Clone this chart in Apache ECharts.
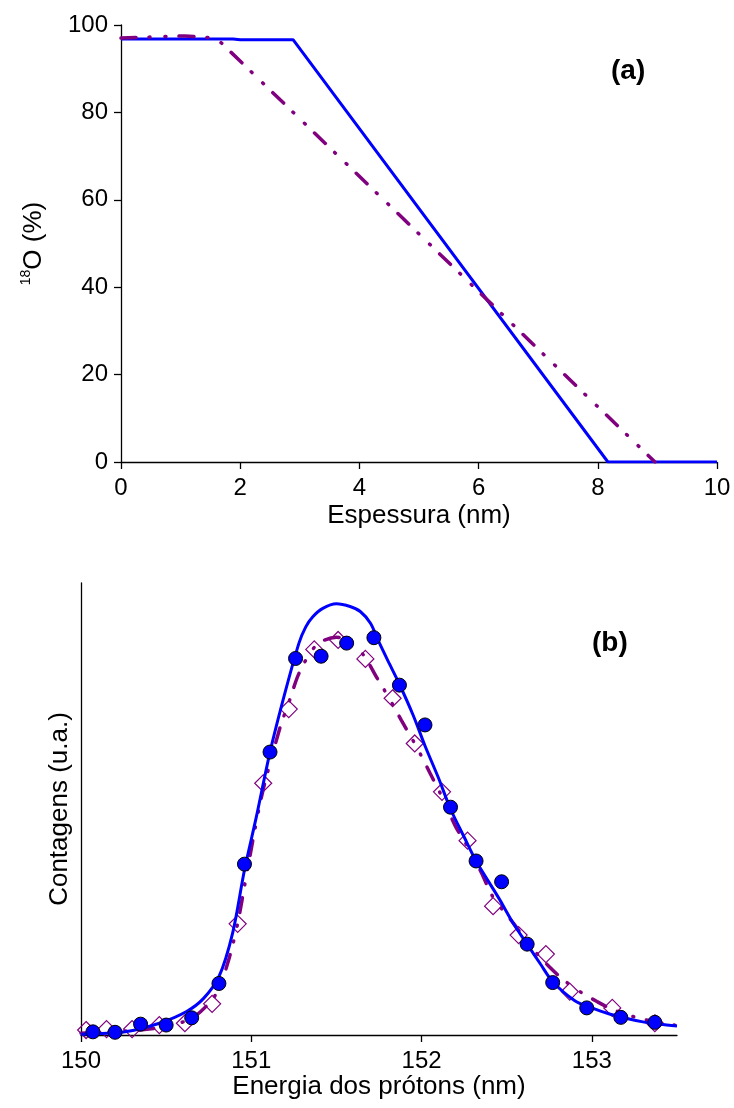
<!DOCTYPE html>
<html>
<head>
    <meta charset="utf-8">
    <title>Perfil 18O</title>
    <script src="https://cdn.jsdelivr.net/npm/echarts@6/dist/echarts.min.js"></script>
    <style>
        body{ margin:0; padding:0; background:#fff;}
        #main{ width:734px; height:1108px;}
    </style>
</head>
<body>
<div id="main"></div>
<script>
// (a) perfil de 18O
var perfilSolido = [[0, 96.8], [1.88, 96.8], [2.0, 96.6], [2.89, 96.6], [8.17, 0], [10, 0]];
var perfilTraco = [[0, 97.0], [1.07, 97.5], [1.6, 97.0], [8.96, 0]];

// (b) pontos experimentais e ajustes
var pontosCirculo = [
    [150.07, 0.7], [150.2, 0.6], [150.35, 2.4], [150.5, 2.2], [150.65, 3.8], [150.81, 11.4],
    [150.96, 37.8], [151.11, 62.6], [151.26, 83.3], [151.41, 83.8], [151.56, 86.7], [151.72, 87.9],
    [151.87, 77.4], [152.02, 68.6], [152.17, 50.4], [152.32, 38.5], [152.47, 33.9], [152.62, 20.1],
    [152.77, 11.6], [152.97, 6.0], [153.17, 3.9], [153.37, 2.8]
];
var pontosLosango = [
    [150.03, 1.1], [150.15, 1.3], [150.3, 1.3], [150.46, 2.2], [150.61, 2.6], [150.77, 6.9],
    [150.92, 24.6], [151.07, 55.7], [151.22, 72.1], [151.37, 85.3], [151.51, 87.4], [151.67, 83.2],
    [151.83, 74.5], [151.96, 64.5], [152.12, 53.8], [152.27, 43.0], [152.42, 28.5], [152.57, 22.1],
    [152.73, 17.9], [152.87, 9.6], [153.12, 6.0], [153.37, 2.6]
];
var ajusteSolido = [
    [150.0, 0.15], [150.26, 0.7], [150.46, 2.6], [150.62, 5.2], [150.72, 8.1], [150.81, 12.9],
    [150.89, 22.5], [150.96, 36.5], [151.03, 48.3], [151.11, 62.6], [151.2, 76.0], [151.28, 86.7],
    [151.32, 90.3], [151.36, 92.5], [151.42, 94.4], [151.5, 95.4], [151.58, 94.8], [151.64, 93.7],
    [151.7, 91.1], [151.75, 86.9], [151.81, 82.2], [151.87, 77.6], [151.95, 70.8], [152.02, 64.0],
    [152.1, 56.8], [152.17, 50.0], [152.25, 43.8], [152.32, 38.5], [152.45, 30.5], [152.54, 24.6],
    [152.62, 20.1], [152.7, 15.6], [152.77, 11.8], [152.9, 7.6], [153.0, 6.0], [153.09, 4.8],
    [153.2, 3.7], [153.3, 2.9], [153.4, 2.4], [153.5, 2.0]
];
var ajusteTraco = [
    [150.0, 0.4], [150.4, 1.3], [150.6, 2.9], [150.7, 5.1], [150.8, 9.5], [150.87, 17.0],
    [150.92, 24.7], [150.97, 35.0], [151.06, 52.7], [151.17, 68.2], [151.22, 73.5], [151.28, 80.0],
    [151.36, 85.3], [151.42, 87.2], [151.5, 88.0], [151.58, 87.0], [151.66, 84.0], [151.74, 78.9],
    [151.81, 74.5], [151.88, 69.7], [151.97, 63.8], [152.05, 57.9], [152.12, 52.7], [152.2, 46.1],
    [152.27, 41.7], [152.35, 36.0], [152.42, 30.5], [152.54, 24.7], [152.65, 19.2], [152.75, 15.1],
    [152.84, 12.0], [152.93, 9.6], [153.03, 7.4], [153.13, 5.5], [153.25, 4.0], [153.37, 2.9],
    [153.5, 2.1]
];
var ticksEnergia = [150, 151, 152, 153];

var azul = '#0000ff';
var roxo = '#800080';
var fonte = '"Liberation Sans", Arial, sans-serif';
var eixo = {lineStyle: {color: '#000', width: 1.3}};
var tracoPonto = [15, 13, 1, 15, 1, 13];

var chart = echarts.init(document.getElementById('main'));
var option = {
    animation: false,
    backgroundColor: '#fff',
    textStyle: {fontFamily: fonte, color: '#000'},
    title: [
        {text: '(a)', left: 606, top: 52, textStyle: {fontSize: 28, fontWeight: 'bold', color: '#000', fontFamily: fonte}},
        {text: '(b)', left: 587, top: 624, textStyle: {fontSize: 28, fontWeight: 'bold', color: '#000', fontFamily: fonte}}
    ],
    grid: [
        {left: 121, top: 25, right: 17, bottom: 646},
        {left: 81, top: 583, right: 57, bottom: 73}
    ],
    xAxis: [
        {
            gridIndex: 0, type: 'value', min: 0, max: 10, interval: 2,
            name: 'Espessura (nm)', nameLocation: 'middle', nameGap: 41,
            nameTextStyle: {fontSize: 26, color: '#000'},
            axisLine: eixo,
            axisTick: {show: true, length: 7, lineStyle: {color: '#000', width: 1.3}},
            axisLabel: {fontSize: 24, color: '#000', margin: 14},
            splitLine: {show: false}
        },
        {
            gridIndex: 1, type: 'value', min: 150, max: 153.5,
            name: 'Energia dos prótons (nm)', nameLocation: 'middle', nameGap: 37,
            nameTextStyle: {fontSize: 26, color: '#000'},
            axisLine: eixo,
            axisTick: {show: true, length: 7, customValues: ticksEnergia, lineStyle: {color: '#000', width: 1.3}},
            axisLabel: {fontSize: 24, color: '#000', margin: 14, customValues: ticksEnergia},
            splitLine: {show: false}
        }
    ],
    yAxis: [
        {
            gridIndex: 0, type: 'value', min: 0, max: 100, interval: 20,
            name: '{sup|18}{b|O (%)}', nameLocation: 'middle', nameGap: 72, nameRotate: 90,
            nameTextStyle: {
                color: '#000',
                rich: {
                    sup: {fontSize: 14, verticalAlign: 'top', lineHeight: 30, fontFamily: fonte},
                    b: {fontSize: 26, lineHeight: 30, fontFamily: fonte}
                }
            },
            axisLine: {show: true, lineStyle: {color: '#000', width: 1.3}},
            axisTick: {show: true, length: 7, lineStyle: {color: '#000', width: 1.3}},
            axisLabel: {fontSize: 24, color: '#000', margin: 13},
            splitLine: {show: false}
        },
        {
            gridIndex: 1, type: 'value', min: 0, max: 100,
            name: 'Contagens (u.a.)', nameLocation: 'middle', nameGap: 8, nameRotate: 90,
            nameTextStyle: {fontSize: 26, color: '#000'},
            axisLine: {show: true, lineStyle: {color: '#000', width: 1.3}},
            axisTick: {show: false},
            axisLabel: {show: false},
            splitLine: {show: false}
        }
    ],
    series: [
        {
            type: 'line', xAxisIndex: 0, yAxisIndex: 0, data: perfilSolido,
            showSymbol: false, lineStyle: {color: azul, width: 3}, z: 3
        },
        {
            type: 'line', xAxisIndex: 0, yAxisIndex: 0, data: perfilTraco,
            showSymbol: false, lineStyle: {color: roxo, width: 3.5, type: tracoPonto, cap: 'round'}, z: 4
        },
        {
            type: 'scatter', xAxisIndex: 1, yAxisIndex: 1, data: pontosLosango,
            symbol: 'diamond', symbolSize: 17,
            itemStyle: {color: 'rgba(0,0,0,0)', borderColor: roxo, borderWidth: 1.2, opacity: 1}, z: 2
        },
        {
            type: 'line', xAxisIndex: 1, yAxisIndex: 1, data: ajusteTraco, smooth: 0.3,
            showSymbol: false, lineStyle: {color: roxo, width: 3.5, type: tracoPonto, cap: 'round'}, z: 3
        },
        {
            type: 'line', xAxisIndex: 1, yAxisIndex: 1, data: ajusteSolido, smooth: 0.3,
            showSymbol: false, lineStyle: {color: azul, width: 3}, z: 4
        },
        {
            type: 'scatter', xAxisIndex: 1, yAxisIndex: 1, data: pontosCirculo,
            symbol: 'circle', symbolSize: 14,
            itemStyle: {color: azul, borderColor: '#000', borderWidth: 1, opacity: 1}, z: 5
        }
    ]
};
chart.setOption(option);
</script>
</body>
</html>
